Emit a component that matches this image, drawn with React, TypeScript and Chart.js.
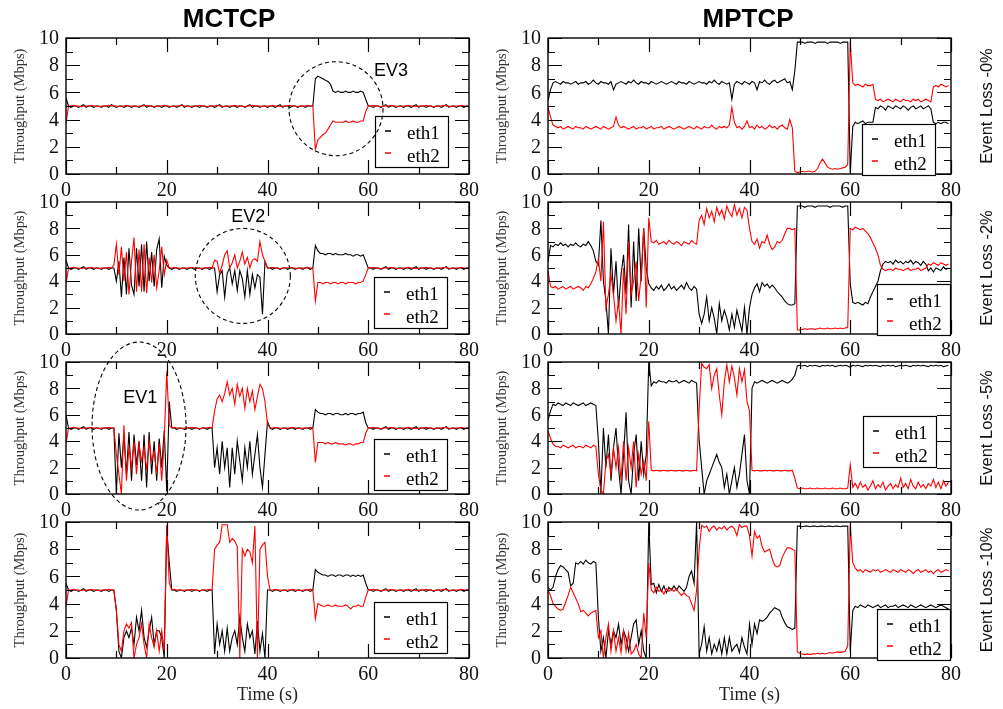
import React, { useEffect, useRef } from "react";
import { Chart, registerables } from "chart.js";

Chart.register(...registerables);

// ---------- data ----------
const TIME = [
  0, 0.5, 1, 1.5, 2, 2.5, 3, 3.5, 4, 4.5,
  5, 5.5, 6, 6.5, 7, 7.5, 8, 8.5, 9, 9.5,
  10, 10.5, 11, 11.5, 12, 12.5, 13, 13.5, 14, 14.5,
  15, 15.5, 16, 16.5, 17, 17.5, 18, 18.5, 19, 19.5,
  20, 20.5, 21, 21.5, 22, 22.5, 23, 23.5, 24, 24.5,
  25, 25.5, 26, 26.5, 27, 27.5, 28, 28.5, 29, 29.5,
  30, 30.5, 31, 31.5, 32, 32.5, 33, 33.5, 34, 34.5,
  35, 35.5, 36, 36.5, 37, 37.5, 38, 38.5, 39, 39.5,
  40, 40.5, 41, 41.5, 42, 42.5, 43, 43.5, 44, 44.5,
  45, 45.5, 46, 46.5, 47, 47.5, 48, 48.5, 49, 49.5,
  50, 50.5, 51, 51.5, 52, 52.5, 53, 53.5, 54, 54.5,
  55, 55.5, 56, 56.5, 57, 57.5, 58, 58.5, 59, 59.5,
  60, 60.5, 61, 61.5, 62, 62.5, 63, 63.5, 64, 64.5,
  65, 65.5, 66, 66.5, 67, 67.5, 68, 68.5, 69, 69.5,
  70, 70.5, 71, 71.5, 72, 72.5, 73, 73.5, 74, 74.5,
  75, 75.5, 76, 76.5, 77, 77.5, 78, 78.5, 79, 79.5,
  80,
];

const MCTCP_L0_ETH1 = [
  5.6, 5.0, 4.9, 5.0, 5.0, 4.9, 5.0, 5.1, 4.9, 5.0,
  5.0, 4.9, 5.0, 5.0, 4.9, 5.0, 5.0, 4.9, 5.1, 5.0,
  4.9, 5.0, 5.0, 4.9, 5.0, 5.0, 4.9, 5.0, 5.0, 4.9,
  5.0, 5.1, 4.9, 5.0, 5.0, 4.9, 5.0, 5.0, 4.9, 5.0,
  5.0, 4.9, 5.0, 5.0, 4.9, 5.0, 5.1, 4.9, 5.0, 5.0,
  4.9, 5.0, 5.0, 4.9, 5.0, 5.0, 4.9, 5.0, 5.0, 4.9,
  5.0, 5.1, 4.9, 5.0, 5.0, 4.9, 5.0, 5.0, 4.9, 5.0,
  5.0, 4.9, 5.0, 5.1, 4.9, 5.0, 5.0, 4.9, 5.0, 5.0,
  4.9, 5.0, 5.0, 4.9, 5.0, 5.1, 4.9, 5.0, 5.0, 4.9,
  5.0, 5.0, 4.9, 5.0, 5.0, 4.9, 5.0, 5.0, 5.0, 7.0,
  7.2, 7.1, 7.0, 6.9, 6.8, 6.6, 6.1, 6.0, 6.1, 6.0,
  6.0, 6.1, 6.0, 6.0, 6.1, 6.0, 6.0, 6.1, 6.0, 5.5,
  5.0, 5.0, 4.9, 5.0, 5.0, 4.9, 5.0, 5.1, 4.9, 5.0,
  5.0, 4.9, 5.0, 5.0, 4.9, 5.0, 5.0, 4.9, 5.0, 5.1,
  4.9, 5.0, 5.0, 4.9, 5.0, 5.0, 4.9, 5.0, 5.0, 4.9,
  5.0, 5.1, 4.9, 5.0, 5.0, 4.9, 5.0, 5.0, 4.9, 5.0,
  5.0,
];
const MCTCP_L0_ETH2 = [
  3.7, 5.0, 5.0, 5.05, 5.0, 5.0, 4.95, 5.0, 5.0, 5.0,
  5.05, 5.0, 5.0, 4.95, 5.0, 5.0, 5.0, 5.05, 5.0, 5.0,
  5.0, 4.95, 5.0, 5.0, 5.05, 5.0, 5.0, 5.0, 4.95, 5.0,
  5.0, 5.0, 5.05, 5.0, 5.0, 4.95, 5.0, 5.0, 5.0, 5.05,
  5.0, 5.0, 4.95, 5.0, 5.0, 5.0, 5.05, 5.0, 5.0, 4.95,
  5.0, 5.0, 5.0, 5.05, 5.0, 5.0, 4.95, 5.0, 5.0, 5.0,
  5.05, 5.0, 5.0, 4.95, 5.0, 5.0, 5.0, 5.05, 5.0, 5.0,
  5.0, 4.95, 5.0, 5.0, 5.05, 5.0, 5.0, 5.0, 4.95, 5.0,
  5.0, 5.0, 5.05, 5.0, 5.0, 4.95, 5.0, 5.0, 5.0, 5.05,
  5.0, 5.0, 4.95, 5.0, 5.0, 5.0, 5.05, 5.0, 5.0, 1.8,
  2.5, 2.7, 2.9, 3.0, 3.3, 3.6, 3.9, 3.8, 3.8, 3.8,
  3.8, 3.9, 3.8, 3.8, 3.9, 3.8, 3.8, 3.9, 3.9, 4.6,
  5.0, 5.0, 5.05, 5.0, 5.0, 4.95, 5.0, 5.0, 5.0, 5.05,
  5.0, 5.0, 4.95, 5.0, 5.0, 5.0, 5.05, 5.0, 5.0, 4.95,
  5.0, 5.0, 5.0, 5.05, 5.0, 5.0, 4.95, 5.0, 5.0, 5.0,
  5.05, 5.0, 5.0, 4.95, 5.0, 5.0, 5.0, 5.05, 5.0, 5.0,
  5.0,
];

const MPTCP_L0_ETH1 = [
  5.4, 6.2, 6.7, 6.8, 6.7, 6.6, 6.8, 6.7, 6.7, 6.6,
  6.7, 6.8, 6.6, 6.7, 6.7, 6.8, 6.6, 6.7, 6.9, 6.7,
  6.6, 6.8, 6.7, 6.7, 6.6, 6.8, 6.2, 6.6, 6.7, 6.8,
  6.7, 6.6, 6.8, 6.7, 6.9, 6.7, 6.6, 6.8, 6.7, 6.7,
  6.6, 6.8, 6.7, 6.6, 6.7, 6.8, 6.7, 6.6, 6.7, 6.8,
  6.7, 6.6, 6.8, 6.7, 6.7, 6.6, 6.8, 6.7, 6.6, 6.7,
  6.8, 6.7, 6.7, 6.6, 6.8, 6.7, 6.9, 6.7, 6.6, 6.8,
  6.7, 6.6, 6.7, 5.5, 6.6, 6.8, 6.7, 6.6, 6.8, 6.7,
  6.6, 6.8, 6.7, 6.2, 6.8, 6.7, 6.9, 6.7, 6.6, 6.8,
  6.9, 6.7, 6.8, 6.9, 7.0, 6.7, 6.8, 6.2, 7.6, 9.7,
  9.7, 9.7, 9.6, 9.7, 9.7, 9.7, 9.6, 9.7, 9.7, 9.7,
  9.7, 9.6, 9.7, 9.7, 9.7, 9.7, 9.6, 9.7, 9.7, 9.7,
  0.1, 3.5, 3.8, 3.7, 3.8, 3.9, 3.7, 3.8, 3.8, 3.8,
  4.9, 4.8, 5.0, 4.9, 4.7, 5.0, 4.9, 4.8, 5.0, 4.9,
  4.8, 5.0, 4.9, 4.7, 4.9, 5.0, 4.8, 4.9, 5.0, 4.8,
  4.9, 5.0, 4.8, 3.8, 3.7, 3.8, 3.7, 3.8, 3.8, 3.7,
];
const MPTCP_L0_ETH2 = [
  4.9, 4.2, 3.6, 3.5, 3.4, 3.5, 3.3, 3.4, 3.5, 3.4,
  3.3, 3.5, 3.4, 3.4, 3.3, 3.5, 3.4, 3.3, 3.4, 3.5,
  3.4, 3.3, 3.5, 3.4, 3.3, 3.4, 3.5, 4.2, 3.6, 3.4,
  3.5, 3.4, 3.3, 3.4, 3.5, 3.3, 3.4, 3.4, 3.5, 3.3,
  3.4, 3.5, 3.3, 3.4, 3.4, 3.5, 3.3, 3.4, 3.5, 3.4,
  3.3, 3.4, 3.5, 3.4, 3.3, 3.4, 3.5, 3.4, 3.3, 3.5,
  3.4, 3.3, 3.5, 3.4, 3.4, 3.6, 3.4, 3.3, 3.5, 3.4,
  3.5, 3.4, 3.6, 4.9, 3.8, 3.4, 3.5, 3.3, 3.5, 3.9,
  3.4, 3.5, 3.3, 3.6, 3.4, 3.5, 3.3, 3.4, 3.6, 3.4,
  3.5, 3.3, 3.5, 3.6, 3.4, 3.3, 4.0, 3.4, 0.2, 0.1,
  0.15, 0.2, 0.15, 0.2, 0.2, 0.15, 0.2, 0.4, 0.8, 1.1,
  0.8, 0.5, 0.4, 0.35, 0.4, 0.35, 0.4, 0.45, 0.5, 0.7,
  9.7, 6.7, 6.5, 6.6, 6.5, 6.4, 6.6, 6.5, 6.5, 6.6,
  5.5, 5.4, 5.5, 5.3, 5.4, 5.5, 5.4, 5.3, 5.5, 5.4,
  5.3, 5.5, 5.4, 5.4, 5.3, 5.5, 5.4, 5.5, 5.3, 5.4,
  5.5, 5.4, 5.3, 6.4, 6.5, 6.4, 6.6, 6.5, 6.4, 6.5,
];

const MCTCP_L2_ETH1 = [
  5.6, 5.0, 4.9, 5.0, 5.0, 4.9, 5.0, 5.1, 4.9, 5.0,
  5.0, 4.9, 5.0, 5.0, 4.9, 5.0, 5.0, 4.9, 5.0, 5.0,
  4.0, 5.5, 2.8, 5.8, 3.0, 6.5, 3.7, 3.0, 6.5, 3.6,
  6.8, 3.2, 7.0, 4.0, 6.2, 3.6, 6.4, 7.2, 3.5, 5.9,
  5.2, 5.0, 4.9, 5.0, 5.0, 4.9, 5.0, 5.0, 4.9, 5.0,
  5.0, 4.9, 5.0, 5.0, 4.9, 5.0, 5.0, 4.9, 5.0, 5.0,
  3.2, 4.5, 4.8, 2.8, 4.6, 5.0, 3.8, 4.8, 3.3, 4.8,
  4.2, 2.8, 4.8, 3.0, 4.5, 3.5, 4.5, 4.3, 1.5, 5.5,
  5.0, 5.0, 4.9, 5.0, 5.0, 4.9, 5.0, 5.0, 4.9, 5.0,
  5.0, 4.9, 5.0, 5.0, 4.9, 5.0, 5.0, 4.9, 5.0, 6.7,
  6.3, 6.1, 6.1, 6.0, 6.1, 6.1, 6.0, 6.1, 6.0, 6.0,
  6.0, 6.1, 6.0, 6.0, 5.9, 6.0, 6.0, 5.9, 6.0, 5.5,
  5.0, 5.0, 4.9, 5.0, 5.0, 4.9, 5.0, 5.1, 4.9, 5.0,
  5.0, 4.9, 5.0, 5.0, 4.9, 5.0, 5.0, 4.9, 5.0, 5.1,
  4.9, 5.0, 5.0, 4.9, 5.0, 5.0, 4.9, 5.0, 5.0, 4.9,
  5.0, 5.1, 4.9, 5.0, 5.0, 4.9, 5.0, 5.0, 4.9, 5.0,
  5.0,
];
const MCTCP_L2_ETH2 = [
  3.8, 5.0, 5.0, 5.05, 5.0, 5.0, 4.95, 5.0, 5.0, 5.0,
  5.05, 5.0, 5.0, 4.95, 5.0, 5.0, 5.0, 5.05, 5.0, 5.2,
  6.8, 4.5, 6.6, 4.0, 6.2, 3.0, 5.5, 7.3, 3.2, 6.4,
  3.2, 6.8, 3.1, 5.8, 3.9, 6.0, 3.5, 4.8, 6.6, 4.5,
  5.6, 5.0, 5.0, 5.05, 5.0, 5.0, 4.95, 5.0, 5.0, 5.0,
  5.05, 5.0, 5.0, 4.95, 5.0, 5.0, 5.0, 5.05, 5.0, 5.6,
  5.5, 4.6, 5.2, 6.0, 6.3, 5.0, 5.4, 6.0, 5.0, 5.5,
  6.2, 5.3, 5.8, 5.0, 5.6, 5.7, 5.5, 7.0, 6.0, 5.5,
  5.0, 5.0, 5.05, 5.0, 5.0, 4.95, 5.0, 5.0, 5.0, 5.05,
  5.0, 5.0, 4.95, 5.0, 5.0, 5.0, 5.05, 5.0, 5.0, 2.5,
  3.9, 3.9, 3.8, 3.9, 3.9, 3.8, 3.9, 3.9, 3.8, 3.9,
  3.9, 3.8, 3.9, 3.9, 3.9, 3.8, 3.9, 3.9, 4.0, 4.5,
  5.0, 5.0, 5.05, 5.0, 5.0, 4.95, 5.0, 5.0, 5.0, 5.05,
  5.0, 5.0, 4.95, 5.0, 5.0, 5.0, 5.05, 5.0, 5.0, 4.95,
  5.0, 5.0, 5.0, 5.05, 5.0, 5.0, 4.95, 5.0, 5.0, 5.0,
  5.05, 5.0, 5.0, 4.95, 5.0, 5.0, 5.0, 5.05, 5.0, 5.0,
  5.0,
];

const MPTCP_L2_ETH1 = [
  5.5, 6.7, 6.6, 6.8, 6.7, 6.9, 6.7, 6.8, 6.6, 6.8,
  6.7, 6.9, 6.7, 6.6, 6.8, 6.7, 7.0, 6.7, 6.3, 5.5,
  5.2, 8.6, 4.0, 2.5, 0.0, 6.5, 3.0, 5.5, 2.0, 4.5,
  6.0, 3.0, 8.3, 2.0, 7.0, 2.5, 8.0, 4.0, 8.0, 5.0,
  3.8, 3.5, 3.3, 3.6, 3.4, 3.7, 3.3, 3.5, 3.8, 3.4,
  3.6, 3.3, 3.5, 3.7, 3.4, 3.9, 3.5, 3.3, 3.6, 3.4,
  1.5, 0.8, 1.5, 2.8, 1.0, 2.0, 1.2, 0.0, 2.3, 1.0,
  1.8, 1.2, 0.3, 1.5, 0.5, 1.8, 1.0, 0.2, 2.0, 0.0,
  2.0, 3.0, 3.5, 3.8, 3.2, 3.9, 3.6, 3.8, 3.5, 3.7,
  3.5, 3.2, 3.0, 2.8, 2.5, 2.3, 2.2, 2.2, 2.3, 9.7,
  9.7, 9.7, 9.6, 9.7, 9.7, 9.7, 9.6, 9.7, 9.7, 9.7,
  9.7, 9.7, 9.6, 9.7, 9.7, 9.7, 9.7, 9.6, 9.7, 9.7,
  3.8, 2.4, 2.3, 2.4, 2.3, 2.2, 2.4, 2.3, 2.8, 3.2,
  3.6, 4.0, 4.8, 5.3, 5.5, 5.4, 5.5, 5.3, 5.6, 5.4,
  5.5, 5.3, 5.5, 5.4, 5.6, 5.3, 5.5, 5.4, 5.2, 5.5,
  5.3, 4.8, 5.0, 4.7, 5.0, 4.9, 4.8, 5.1, 4.9, 5.0,
];
const MPTCP_L2_ETH2 = [
  4.8, 3.6, 3.5, 3.6, 3.4, 3.5, 3.6, 3.4, 3.5, 3.6,
  3.4, 3.5, 3.6, 3.5, 3.3, 3.6, 3.5, 3.8, 4.2, 4.7,
  5.7, 4.0, 8.5, 2.0, 3.0, 4.5, 3.0, 1.0, 2.5, 0.0,
  5.0, 1.5, 7.0, 3.0, 4.0, 5.5, 2.5, 4.5, 8.0, 2.0,
  8.8, 7.0, 6.9, 7.1, 6.8, 6.9, 7.0, 6.8, 7.1, 6.9,
  6.8, 7.0, 6.9, 6.7, 7.0, 6.9, 6.8, 7.1, 6.9, 6.8,
  8.6, 9.0, 8.3, 9.5, 8.8, 9.3, 8.5, 9.6, 9.0, 9.4,
  8.7, 9.7, 9.2, 8.9, 9.8, 9.0, 9.5, 8.8, 9.6, 9.4,
  8.0, 7.0, 6.8, 7.2, 6.5, 7.0, 6.9, 7.5, 6.8, 6.4,
  6.6, 7.0, 6.9, 7.1, 7.6, 8.0, 8.0, 7.9, 8.0, 0.3,
  0.3, 0.35, 0.4, 0.35, 0.4, 0.4, 0.35, 0.4, 0.45, 0.4,
  0.4, 0.45, 0.4, 0.4, 0.45, 0.4, 0.45, 0.4, 0.45, 0.5,
  8.0, 7.9, 8.1, 8.0, 7.9, 8.0, 7.8, 7.6, 7.3, 6.9,
  6.5, 6.0, 5.2, 4.9, 4.8, 4.9, 4.9, 4.8, 5.0, 4.9,
  4.9, 4.8, 4.9, 5.0, 4.8, 4.9, 4.9, 5.0, 4.8, 4.9,
  5.0, 5.3, 5.2, 5.4, 5.3, 5.2, 5.4, 5.3, 5.2, 5.3,
];

const MCTCP_L5_ETH1 = [
  6.0, 5.0, 4.9, 5.0, 5.0, 4.9, 5.0, 5.1, 4.9, 5.0,
  5.0, 4.9, 5.0, 5.0, 4.9, 5.0, 5.0, 4.9, 5.0, 5.0,
  0.0, 4.6, 2.0, 4.5, 1.5, 4.7, 1.0, 4.5, 2.2, 4.0,
  1.0, 4.5, 0.5, 4.7, 1.5, 4.0, 1.0, 4.2, 2.0, 4.8,
  0.2, 7.0, 5.0, 5.0, 4.9, 5.0, 5.0, 4.9, 5.0, 5.0,
  4.9, 5.0, 5.0, 4.9, 5.0, 5.0, 4.9, 5.0, 5.0, 2.0,
  3.5, 1.5, 4.0, 2.0, 3.5, 0.5, 3.5, 1.5, 4.0, 2.5,
  1.0, 3.5, 2.0, 4.0, 1.5, 3.0, 4.5, 2.0, 0.5, 3.0,
  5.5, 5.0, 4.9, 5.0, 5.0, 4.9, 5.0, 5.0, 4.9, 5.0,
  5.0, 4.9, 5.0, 5.0, 4.9, 5.0, 5.0, 4.9, 5.0, 6.4,
  6.2, 6.1, 6.1, 6.0, 6.1, 6.1, 6.0, 6.1, 6.1, 6.0,
  6.0, 6.1, 6.0, 6.1, 6.1, 6.0, 6.1, 6.1, 6.2, 5.4,
  5.0, 5.0, 4.9, 5.0, 5.0, 4.9, 5.0, 5.1, 4.9, 5.0,
  5.0, 4.9, 5.0, 5.0, 4.9, 5.0, 5.0, 4.9, 5.0, 5.1,
  4.9, 5.0, 5.0, 4.9, 5.0, 5.0, 4.9, 5.0, 5.0, 4.9,
  5.0, 5.1, 4.9, 5.0, 5.0, 4.9, 5.0, 5.0, 4.9, 5.0,
  5.0,
];
const MCTCP_L5_ETH2 = [
  3.8, 5.0, 5.0, 5.05, 5.0, 5.0, 4.95, 5.0, 5.0, 5.0,
  5.05, 5.0, 5.0, 4.95, 5.0, 5.0, 5.0, 5.05, 5.0, 5.0,
  3.0, 1.5, 0.0, 5.2, 1.0, 3.5, 2.0, 4.0, 1.5, 3.8,
  2.5, 3.5, 1.8, 4.0, 2.5, 3.2, 1.5, 3.8, 1.0, 4.0,
  9.3, 5.2, 5.0, 5.05, 5.0, 5.0, 4.95, 5.0, 5.0, 5.0,
  5.05, 5.0, 5.0, 4.95, 5.0, 5.0, 5.0, 5.05, 5.0, 6.3,
  7.2, 7.5, 7.0, 7.6, 8.5, 7.5, 8.0, 6.8, 8.3, 7.4,
  8.0, 6.5, 8.0, 7.0, 7.8, 6.4, 7.4, 8.3, 8.0, 7.0,
  5.3, 5.0, 5.0, 5.05, 5.0, 5.0, 4.95, 5.0, 5.0, 5.0,
  5.05, 5.0, 5.0, 4.95, 5.0, 5.0, 5.0, 5.05, 5.0, 2.4,
  3.9, 3.9, 3.9, 3.8, 3.9, 3.8, 3.8, 3.9, 3.8, 3.8,
  3.8, 3.7, 3.8, 3.8, 3.7, 3.8, 3.8, 3.9, 3.9, 4.6,
  5.0, 5.0, 5.05, 5.0, 5.0, 4.95, 5.0, 5.0, 5.0, 5.05,
  5.0, 5.0, 4.95, 5.0, 5.0, 5.0, 5.05, 5.0, 5.0, 4.95,
  5.0, 5.0, 5.0, 5.05, 5.0, 5.0, 4.95, 5.0, 5.0, 5.0,
  5.05, 5.0, 5.0, 4.95, 5.0, 5.0, 5.0, 5.05, 5.0, 5.0,
  5.0,
];

const MPTCP_L5_ETH1 = [
  5.6, 6.3, 6.8, 6.7, 6.9, 6.8, 6.7, 6.9, 6.8, 6.7,
  6.9, 6.8, 6.7, 6.8, 6.9, 6.7, 6.8, 6.9, 6.8, 6.7,
  4.0, 0.0, 5.0, 2.0, 4.5, 1.0, 3.5, 5.0, 2.0, 0.0,
  3.0, 6.2, 1.0, 0.0, 3.0, 4.5, 1.0, 4.0, 1.5, 3.0,
  10.0, 8.2, 8.5, 8.4, 8.6, 8.5, 8.5, 8.4, 8.6, 8.5,
  8.5, 8.6, 8.4, 8.5, 8.6, 8.5, 8.4, 8.6, 8.5, 8.4,
  4.1, 2.0, 0.0, 1.0, 1.5, 2.0, 2.5, 3.0, 2.4, 2.0,
  0.5, 1.5, 0.0, 1.0, 2.0, 0.5, 1.5, 3.0, 4.5, 1.0,
  0.0, 8.0, 8.5, 8.4, 8.5, 8.6, 8.5, 8.4, 8.5, 8.6,
  8.5, 8.4, 8.5, 8.6, 8.5, 8.4, 8.5, 8.7, 9.0, 9.7,
  9.75, 9.7, 9.75, 9.65, 9.75, 9.7, 9.75, 9.7, 9.65, 9.75,
  9.7, 9.75, 9.7, 9.75, 9.65, 9.7, 9.75, 9.7, 9.75, 9.7,
  9.6, 9.75, 9.7, 9.75, 9.7, 9.65, 9.75, 9.7, 9.75, 9.7,
  9.75, 9.7, 9.65, 9.75, 9.7, 9.75, 9.7, 9.75, 9.65, 9.7,
  9.75, 9.7, 9.75, 9.7, 9.65, 9.75, 9.7, 9.75, 9.7, 9.75,
  9.7, 9.65, 9.75, 9.7, 9.75, 9.7, 9.75, 9.65, 9.7, 9.75,
];
const MPTCP_L5_ETH2 = [
  4.8, 4.2, 3.8, 3.6, 3.6, 3.5, 3.7, 3.6, 3.5, 3.6,
  3.7, 3.5, 3.6, 3.6, 3.5, 3.7, 3.6, 3.5, 3.7, 3.6,
  1.5, 0.3, 0.0, 2.5, 3.0, 1.5, 3.5, 2.0, 3.5, 1.0,
  4.0, 1.0, 3.5, 2.0, 4.0, 0.5, 3.0, 1.5, 2.5, 1.0,
  5.5, 1.8, 1.75, 1.8, 1.75, 1.75, 1.8, 1.75, 1.75, 1.8,
  1.75, 1.75, 1.8, 1.75, 1.75, 1.8, 1.75, 1.75, 1.8, 1.75,
  6.5, 9.9, 9.6, 9.5, 9.8, 8.0, 9.0, 9.5, 7.5, 6.0,
  8.5, 9.8, 8.5, 9.7, 8.8, 7.5, 9.5, 8.5, 9.4, 7.0,
  6.3, 1.8, 1.75, 1.8, 1.75, 1.75, 1.8, 1.75, 1.8, 1.75,
  1.75, 1.8, 1.75, 1.75, 1.8, 1.75, 1.75, 1.8, 1.2, 0.45,
  0.4, 0.45, 0.4, 0.4, 0.45, 0.4, 0.4, 0.45, 0.4, 0.4,
  0.45, 0.4, 0.4, 0.45, 0.4, 0.4, 0.45, 0.4, 0.4, 0.45,
  2.2, 0.5, 0.8, 0.4, 0.9, 0.5, 0.7, 0.3, 0.6, 1.0,
  0.4, 0.7, 0.5, 0.9, 0.3, 0.6, 0.8, 0.4, 0.7, 0.5,
  1.2, 0.5, 0.8, 0.4, 1.1, 0.6, 0.4, 0.9, 0.5, 0.7,
  0.4, 0.8, 0.6, 1.1, 0.5, 0.9, 0.4, 1.0, 0.6, 0.9,
];

const MCTCP_L10_ETH1 = [
  5.5, 5.0, 4.9, 5.0, 5.0, 4.9, 5.0, 5.1, 4.9, 5.0,
  5.0, 4.9, 5.0, 5.0, 4.9, 5.0, 5.0, 4.9, 5.0, 5.0,
  3.5, 0.5, 0.0, 1.5, 2.0, 1.5, 2.2, 1.0, 3.0, 2.0,
  3.5, 1.5, 0.8, 2.0, 3.0, 1.0, 2.0, 2.0, 1.5, 0.0,
  9.5, 7.0, 5.0, 5.0, 4.9, 5.0, 5.0, 4.9, 5.0, 5.0,
  4.9, 5.0, 5.0, 4.9, 5.0, 5.0, 4.9, 5.0, 5.0, 0.3,
  2.5, 1.0, 2.0, 0.5, 2.2, 0.5, 1.5, 2.0, 1.0, 3.0,
  1.5, 0.5, 2.5, 1.5, 2.0, 0.3, 2.7, 0.5, 1.8, 0.0,
  5.0, 5.0, 4.9, 5.0, 5.0, 4.9, 5.0, 5.0, 4.9, 5.0,
  5.0, 4.9, 5.0, 5.0, 4.9, 5.0, 5.0, 4.9, 5.0, 6.5,
  6.3, 6.2, 6.1, 6.1, 6.0, 6.1, 6.1, 6.0, 6.1, 6.1,
  6.0, 6.1, 6.1, 6.0, 6.1, 6.0, 6.1, 6.0, 6.1, 5.5,
  5.0, 5.0, 4.9, 5.0, 5.0, 4.9, 5.0, 5.1, 4.9, 5.0,
  5.0, 4.9, 5.0, 5.0, 4.9, 5.0, 5.0, 4.9, 5.0, 5.1,
  4.9, 5.0, 5.0, 4.9, 5.0, 5.0, 4.9, 5.0, 5.0, 4.9,
  5.0, 5.1, 4.9, 5.0, 5.0, 4.9, 5.0, 5.0, 4.9, 5.0,
  5.0,
];
const MCTCP_L10_ETH2 = [
  3.8, 5.0, 5.0, 5.05, 5.0, 5.0, 4.95, 5.0, 5.0, 5.0,
  5.05, 5.0, 5.0, 4.95, 5.0, 5.0, 5.0, 5.05, 5.0, 5.0,
  3.5, 1.0, 0.5, 2.0, 2.5, 2.2, 2.6, 0.0, 1.0, 1.5,
  2.5, 1.0, 0.0, 2.5, 1.5, 0.8, 2.0, 0.5, 2.0, 0.5,
  9.8, 5.5, 5.0, 5.05, 5.0, 5.0, 4.95, 5.0, 5.0, 5.0,
  5.05, 5.0, 5.0, 4.95, 5.0, 5.0, 5.0, 5.05, 5.0, 8.0,
  8.3, 8.5, 9.8, 9.8, 9.8, 8.5, 8.8, 8.6, 8.2, 0.0,
  8.0, 7.5, 8.0, 7.8, 7.0, 9.7, 0.0, 8.0, 8.3, 8.5,
  6.0, 5.0, 5.0, 5.05, 5.0, 5.0, 4.95, 5.0, 5.0, 5.0,
  5.05, 5.0, 5.0, 4.95, 5.0, 5.0, 5.0, 5.05, 5.0, 2.9,
  4.0, 3.9, 3.8, 3.8, 3.9, 3.8, 3.8, 3.9, 3.8, 3.8,
  3.8, 3.9, 3.8, 3.6, 3.8, 3.8, 3.9, 3.8, 3.8, 4.5,
  5.0, 5.0, 5.05, 5.0, 5.0, 4.95, 5.0, 5.0, 5.0, 5.05,
  5.0, 5.0, 4.95, 5.0, 5.0, 5.0, 5.05, 5.0, 5.0, 4.95,
  5.0, 5.0, 5.0, 5.05, 5.0, 5.0, 4.95, 5.0, 5.0, 5.0,
  5.05, 5.0, 5.0, 4.95, 5.0, 5.0, 5.0, 5.05, 5.0, 5.0,
  5.0,
];

const MPTCP_L10_ETH1 = [
  5.2, 5.0, 5.2, 6.0, 6.5, 6.8, 6.7, 6.5, 6.3, 5.3,
  5.5, 7.0, 6.9, 7.1, 6.9, 7.2, 7.0, 6.9, 7.1, 7.0,
  3.0, 0.5, 1.5, 0.0, 2.0, 1.0, 2.0, 1.5, 2.5, 1.0,
  2.0, 1.5, 0.5, 1.5, 2.5, 2.8, 1.0, 2.0, 0.5, 0.0,
  10.0, 5.4, 5.5, 4.8, 5.4, 4.9, 5.3, 4.8, 5.2, 5.0,
  5.3, 5.0, 5.3, 5.1, 4.9, 5.2, 6.0, 6.4, 5.5, 10.0,
  0.3, 1.0, 2.3, 0.5, 1.5, 0.3, 1.0, 0.5, 1.3, 0.3,
  1.5, 0.3, 1.5, 0.5, 0.8, 1.0, 0.4, 1.5, 0.8, 0.3,
  2.5, 1.0, 2.5, 1.8, 2.8, 2.7, 2.8, 3.0, 3.3, 3.5,
  3.7, 3.6, 3.5, 3.0, 2.6, 2.3, 2.2, 2.1, 2.2, 9.7,
  9.7, 9.65, 9.7, 9.7, 9.65, 9.7, 9.7, 9.65, 9.7, 9.7,
  9.65, 9.7, 9.7, 9.65, 9.7, 9.7, 9.65, 9.7, 9.7, 9.7,
  0.5, 3.5, 3.8, 3.7, 3.9, 3.8, 3.7, 3.9, 3.8, 3.7,
  3.8, 3.9, 3.7, 3.8, 3.9, 3.7, 3.8, 3.8, 3.9, 3.7,
  3.8, 3.9, 3.8, 3.7, 3.9, 3.8, 3.7, 3.8, 3.9, 3.8,
  3.7, 3.8, 3.9, 3.8, 3.7, 3.8, 3.9, 3.8, 3.7, 3.6,
];
const MPTCP_L10_ETH2 = [
  5.0, 4.6, 4.0, 3.8, 3.6, 3.5, 3.6, 4.1, 4.6, 5.2,
  4.8, 4.4, 4.0, 3.4, 3.5, 3.3, 3.1, 3.3, 3.4, 3.5,
  1.5, 2.0, 0.0, 1.5, 2.5, 0.5, 2.0, 0.5, 1.5, 0.4,
  2.0, 0.5, 1.8, 0.3, 0.5, 1.0, 0.3, 0.0, 3.3, 1.5,
  7.0, 5.0, 4.8, 5.2, 4.9, 5.0, 4.7, 5.1, 4.9, 5.1,
  4.9, 5.1, 4.8, 4.6, 4.8, 4.6, 4.5, 4.0, 3.5, 5.0,
  8.0, 9.75, 9.6, 9.7, 9.3, 9.6, 9.7, 9.4, 9.6, 9.5,
  9.7, 9.4, 9.6, 9.7, 9.5, 9.0, 9.8, 9.6, 9.7, 9.7,
  9.0, 7.5, 9.3, 8.8, 9.0, 8.2, 7.8, 7.9, 8.0, 7.3,
  6.8, 6.7, 6.8, 7.4, 7.8, 8.1, 8.1, 8.0, 7.9, 0.45,
  0.35, 0.3, 0.25, 0.3, 0.25, 0.3, 0.3, 0.35, 0.3, 0.35,
  0.3, 0.35, 0.4, 0.35, 0.4, 0.45, 0.4, 0.45, 0.5, 0.9,
  9.8, 7.0, 6.6, 6.4, 6.5, 6.3, 6.5, 6.4, 6.3, 6.5,
  6.4, 6.5, 6.3, 6.4, 6.5, 6.4, 6.3, 6.5, 6.4, 6.3,
  6.5, 6.4, 6.3, 6.5, 6.4, 6.2, 6.4, 6.5, 6.3, 6.4,
  6.5, 6.3, 6.4, 6.2, 6.4, 6.5, 6.3, 6.4, 6.5, 6.4,
];

const X_TICKS = [0, 20, 40, 60, 80];
const X_MINOR = [10, 30, 50, 70];
const Y_TICKS = [0, 2, 4, 6, 8, 10];
const Y_MINOR = [1, 3, 5, 7, 9];
const SERIES_NAMES = ["eth1", "eth2"];
const SERIES_COLORS = ["#000000", "#ff0000"];
const COLUMN_TITLES = ["MCTCP", "MPTCP"];
const ROW_TITLES = ["Event Loss -0%", "Event Loss -2%", "Event Loss -5%", "Event Loss -10%"];
const Y_TITLE = "Throughput (Mbps)";
const X_TITLE = "Time (s)";

// ---------- layout ----------
const COL_LEFT = [66, 548];
const PLOT_W = 403;
const ROW_TOP = [38, 202, 362, 522];
const ROW_H = [136, 132, 132, 136];
const TITLE_X = [229, 748];
const ROW_LABEL_X = 987;
const PAD = { left: 64, top: 16, right: 18, bottom: 50 };
const LEG_W = 74;
const LEG_H = 52;

type Panel = { row: number; col: number; eth1: number[]; eth2: number[]; legend: [number, number] };

const PANELS: Panel[] = [
  { row: 0, col: 0, eth1: MCTCP_L0_ETH1, eth2: MCTCP_L0_ETH2, legend: [20, 6] },
  { row: 0, col: 1, eth1: MPTCP_L0_ETH1, eth2: MPTCP_L0_ETH2, legend: [15, -2] },
  { row: 1, col: 0, eth1: MCTCP_L2_ETH1, eth2: MCTCP_L2_ETH2, legend: [21, 5] },
  { row: 1, col: 1, eth1: MPTCP_L2_ETH1, eth2: MPTCP_L2_ETH2, legend: [0, -2] },
  { row: 2, col: 0, eth1: MCTCP_L5_ETH1, eth2: MCTCP_L5_ETH2, legend: [21, 3] },
  { row: 2, col: 1, eth1: MPTCP_L5_ETH1, eth2: MPTCP_L5_ETH2, legend: [14, 26] },
  { row: 3, col: 0, eth1: MCTCP_L10_ETH1, eth2: MCTCP_L10_ETH2, legend: [21, 4] },
  { row: 3, col: 1, eth1: MPTCP_L10_ETH1, eth2: MPTCP_L10_ETH2, legend: [0, -3] },
];

const ANNOTATIONS = [
  { panel: 0, t: 53.6, v: 4.8, rx: 47, ry: 47, label: "EV3", lt: 64.5, lv: 7.55 },
  { panel: 2, t: 35.1, v: 4.4, rx: 47.5, ry: 47.5, label: "EV2", lt: 36.2, lv: 8.85 },
  { panel: 4, t: 14.5, v: 5.15, rx: 47, ry: 84, label: "EV1", lt: 14.75, lv: 7.25 },
];

const SERIF = '"Liberation Serif", "Times New Roman", serif';
const SANS = '"Liberation Sans", Arial, sans-serif';

const toPoints = (vals: number[]) => vals.map((v, i) => ({ x: TIME[i], y: v }));

function decorPlugin(p: Panel) {
  return {
    id: "decor",
    afterDraw(chart: any) {
      const ctx = chart.ctx as CanvasRenderingContext2D;
      const { left, right, top, bottom } = chart.chartArea;
      const xs = chart.scales.x;
      const ys = chart.scales.y;
      ctx.save();
      // inward ticks on all four sides
      ctx.strokeStyle = "#000";
      ctx.lineWidth = 1.2;
      ctx.beginPath();
      const vt = (v: number, len: number) => {
        const x = Math.round(xs.getPixelForValue(v)) + 0.5;
        ctx.moveTo(x, bottom);
        ctx.lineTo(x, bottom - len);
        ctx.moveTo(x, top);
        ctx.lineTo(x, top + len);
      };
      const ht = (v: number, len: number) => {
        const y = Math.round(ys.getPixelForValue(v)) + 0.5;
        ctx.moveTo(left, y);
        ctx.lineTo(left + len, y);
        ctx.moveTo(right, y);
        ctx.lineTo(right - len, y);
      };
      X_TICKS.forEach((v) => vt(v, 14));
      X_MINOR.forEach((v) => vt(v, 7));
      Y_TICKS.forEach((v) => ht(v, 14));
      Y_MINOR.forEach((v) => ht(v, 7));
      ctx.stroke();
      // frame
      ctx.lineWidth = 1.4;
      ctx.strokeRect(left, top, right - left, bottom - top);
      // tick labels
      ctx.fillStyle = "#111";
      ctx.font = `20px ${SERIF}`;
      ctx.textAlign = "center";
      ctx.textBaseline = "alphabetic";
      X_TICKS.forEach((v) => ctx.fillText(String(v), xs.getPixelForValue(v), bottom + 22));
      ctx.textAlign = "right";
      ctx.textBaseline = "middle";
      Y_TICKS.forEach((v) => ctx.fillText(String(v), left - 7, ys.getPixelForValue(v) + 1));
      // y title
      ctx.save();
      ctx.translate(left - 46, (top + bottom) / 2);
      ctx.rotate(-Math.PI / 2);
      ctx.font = `14.5px ${SERIF}`;
      ctx.fillStyle = "#333";
      ctx.textAlign = "center";
      ctx.textBaseline = "middle";
      ctx.fillText(Y_TITLE, 0, 0);
      ctx.restore();
      // x title on the bottom row
      if (p.row === ROW_TOP.length - 1) {
        ctx.font = `18px ${SERIF}`;
        ctx.fillStyle = "#222";
        ctx.textAlign = "center";
        ctx.textBaseline = "alphabetic";
        ctx.fillText(X_TITLE, (left + right) / 2, bottom + 42);
      }
      // legend
      const bx = Math.round(right - p.legend[0] - LEG_W);
      const by = Math.round(bottom - p.legend[1] - LEG_H);
      ctx.fillStyle = "#fff";
      ctx.fillRect(bx, by, LEG_W, LEG_H);
      ctx.strokeStyle = "#000";
      ctx.lineWidth = 1.2;
      ctx.strokeRect(bx + 0.5, by + 0.5, LEG_W - 1, LEG_H - 1);
      SERIES_NAMES.forEach((name, i) => {
        const ly = by + 15 + i * 22;
        ctx.strokeStyle = SERIES_COLORS[i];
        ctx.lineWidth = 1.5;
        ctx.beginPath();
        ctx.moveTo(bx + 10, ly);
        ctx.lineTo(bx + 16, ly);
        ctx.stroke();
        ctx.fillStyle = "#000";
        ctx.font = `19px ${SERIF}`;
        ctx.textAlign = "left";
        ctx.textBaseline = "alphabetic";
        ctx.fillText(name, bx + 32, by + 23 + i * 22.5);
      });
      ctx.restore();
    },
  };
}

function makeConfig(p: Panel): any {
  return {
    type: "line",
    data: {
      datasets: [
        {
          label: SERIES_NAMES[0],
          data: toPoints(p.eth1),
          borderColor: SERIES_COLORS[0],
          borderWidth: 1.1,
          pointRadius: 0,
          tension: 0,
          order: 1,
        },
        {
          label: SERIES_NAMES[1],
          data: toPoints(p.eth2),
          borderColor: SERIES_COLORS[1],
          borderWidth: 1.1,
          pointRadius: 0,
          tension: 0,
          order: 0,
        },
      ],
    },
    options: {
      responsive: false,
      animation: false,
      events: [],
      layout: { padding: { left: PAD.left, top: PAD.top, right: PAD.right, bottom: PAD.bottom } },
      scales: {
        x: { type: "linear", min: 0, max: 80, display: false },
        y: { type: "linear", min: 0, max: 10, display: false },
      },
      plugins: { legend: { display: false }, tooltip: { enabled: false } },
    },
    plugins: [decorPlugin(p)],
  };
}

const canvasLeft = (p: Panel) => COL_LEFT[p.col] - PAD.left;
const canvasTop = (p: Panel) => ROW_TOP[p.row] - PAD.top;
const canvasW = () => PLOT_W + PAD.left + PAD.right;
const canvasH = (p: Panel) => ROW_H[p.row] + PAD.top + PAD.bottom;

function drawOverlay(canvas: HTMLCanvasElement, charts: any[]) {
  const ctx = canvas.getContext("2d")!;
  ctx.clearRect(0, 0, canvas.width, canvas.height);
  ctx.fillStyle = "#000";
  ctx.font = `bold 26px ${SANS}`;
  ctx.textAlign = "center";
  ctx.textBaseline = "alphabetic";
  COLUMN_TITLES.forEach((t, i) => ctx.fillText(t, TITLE_X[i], 27));
  ctx.font = `16.5px ${SANS}`;
  ctx.fillStyle = "#111";
  ROW_TITLES.forEach((t, r) => {
    ctx.save();
    ctx.translate(ROW_LABEL_X, ROW_TOP[r] + ROW_H[r] / 2);
    ctx.rotate(-Math.PI / 2);
    ctx.textAlign = "center";
    ctx.textBaseline = "middle";
    ctx.fillText(t, 0, 0);
    ctx.restore();
  });
  ANNOTATIONS.forEach((a) => {
    const p = PANELS[a.panel];
    const ch = charts[a.panel];
    const ox = canvasLeft(p);
    const oy = canvasTop(p);
    const cx = ox + ch.scales.x.getPixelForValue(a.t);
    const cy = oy + ch.scales.y.getPixelForValue(a.v);
    ctx.save();
    ctx.strokeStyle = "#000";
    ctx.lineWidth = 1.1;
    ctx.setLineDash([4, 3]);
    ctx.beginPath();
    ctx.ellipse(cx, cy, a.rx, a.ry, 0, 0, Math.PI * 2);
    ctx.stroke();
    ctx.restore();
    ctx.fillStyle = "#000";
    ctx.font = `18px ${SANS}`;
    ctx.textAlign = "center";
    ctx.textBaseline = "middle";
    ctx.fillText(a.label, ox + ch.scales.x.getPixelForValue(a.lt), oy + ch.scales.y.getPixelForValue(a.lv));
  });
}

export default function App() {
  const refs = useRef<(HTMLCanvasElement | null)[]>([]);
  const overlayRef = useRef<HTMLCanvasElement | null>(null);

  useEffect(() => {
    const charts = PANELS.map((p, i) => new Chart(refs.current[i] as HTMLCanvasElement, makeConfig(p)));
    if (overlayRef.current) drawOverlay(overlayRef.current, charts);
    return () => {
      charts.forEach((c) => c.destroy());
    };
  }, []);

  return (
    <div
      style={{
        position: "absolute",
        left: 0,
        top: 0,
        width: 1003,
        height: 709,
        background: "#fff",
        overflow: "hidden",
      }}
    >
      {PANELS.map((p, i) => (
        <canvas
          key={i}
          ref={(el) => {
            refs.current[i] = el;
          }}
          width={canvasW()}
          height={canvasH(p)}
          style={{
            position: "absolute",
            left: canvasLeft(p),
            top: canvasTop(p),
            width: canvasW(),
            height: canvasH(p),
          }}
        />
      ))}
      <canvas
        ref={overlayRef}
        width={1003}
        height={709}
        style={{ position: "absolute", left: 0, top: 0, width: 1003, height: 709, pointerEvents: "none" }}
      />
    </div>
  );
}
